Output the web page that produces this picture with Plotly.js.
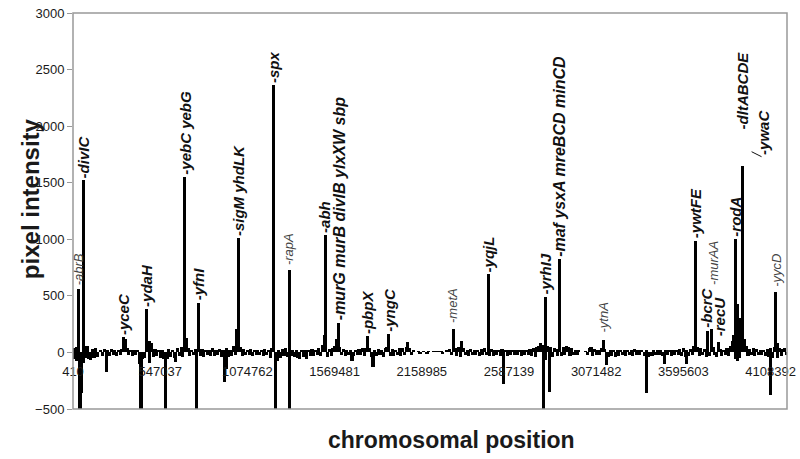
<!DOCTYPE html>
<html>
<head>
<meta charset="utf-8">
<script src="https://cdn.plot.ly/plotly-3.0.1.min.js"></script>
<style>html,body{margin:0;padding:0;background:#fff;}#chart{width:800px;height:459px;}</style>
</head>
<body>
<div id="chart"></div>
<script>
// Category axis: chromosomal positions (labels every 50 categories)
const tickPos = [0, 50, 100, 150, 200, 250, 300, 350, 400];
const tickLabels = ['410', '547037', '1074762', '1569481', '2158985', '2587139', '3071482', '3595603', '4108392'];

// [category index, pixel intensity] — positive signals
const upBars = [
  [0,25],[1,40],[2,50],[3,560],[6,1520],[7,40],[8,55],[11,30],[13,35],[16,25],
  [18,30],[20,20],[22,28],[24,25],[26,22],[28,30],[29,132],[30,115],[31,40],[33,25],
  [35,20],[37,22],[42,382],[43,100],[44,100],[45,80],[47,30],[49,25],[51,20],[55,30],
  [57,25],[60,35],[62,50],[64,1550],[65,130],[66,40],[68,25],[70,30],[72,440],[74,30],
  [76,25],[78,22],[80,35],[82,25],[84,30],[86,20],[88,40],[90,25],[92,60],[94,208],
  [95,1012],[96,50],[98,30],[100,25],[102,30],[104,20],[106,25],[108,22],[110,30],[112,25],
  [114,40],[115,2360],[118,25],[120,30],[122,35],[124,725],[126,20],[128,22],[131,18],[133,25],
  [135,20],[137,30],[139,25],[141,40],[143,68],[144,150],[145,1040],[147,30],[149,35],[150,60],
  [151,115],[152,264],[153,50],[155,30],[157,25],[159,20],[162,25],[164,30],[166,35],[168,40],
  [169,147],[170,40],[173,25],[175,30],[177,20],[179,35],[180,50],[181,162],[183,30],[185,25],
  [187,35],[189,40],[191,50],[192,88],[193,40],[195,20],[198,15],[201,15],[204,15],[207,15],
  [209,15],[211,15],[214,20],[216,30],[218,211],[219,40],[221,50],[223,103],[224,40],[226,25],
  [228,30],[230,20],[232,25],[234,30],[236,35],[238,690],[240,30],[242,25],[244,20],[246,30],
  [248,20],[250,25],[252,20],[254,18],[256,22],[258,25],[260,20],[262,30],[264,40],[266,50],
  [267,60],[268,80],[269,70],[271,490],[272,60],[274,50],[276,40],[277,30],[279,828],[281,50],
  [283,60],[284,50],[286,40],[288,25],[290,20],[294,15],[296,40],[297,50],[299,30],[301,25],
  [303,40],[304,112],[305,30],[308,20],[310,22],[312,18],[314,25],[316,20],[318,22],[320,25],
  [322,30],[324,20],[326,18],[329,20],[333,18],[335,25],[337,20],[340,18],[342,22],[344,20],
  [346,25],[348,30],[350,35],[352,25],[354,30],[356,60],[357,989],[358,50],[360,40],[362,30],
  [364,191],[366,206],[367,50],[370,88],[371,30],[373,25],[375,35],[377,60],[378,100],[379,150],
  [380,1003],[381,426],[382,300],[383,200],[384,1650],[385,120],[386,60],[388,30],[390,40],[392,30],
  [394,25],[396,20],[398,30],[400,35],[402,50],[403,534],[404,80],[405,40],[407,30],[408,40]
];

// [category index, pixel intensity] — negative signals
const downBars = [
  [1,-60],[2,-80],[4,-520],[5,-360],[6,-90],[7,-50],[9,-60],[10,-70],[12,-50],[14,-40],
  [17,-30],[19,-176],[21,-35],[23,-25],[25,-30],[27,-20],[32,-25],[34,-30],[36,-20],[38,-100],
  [39,-520],[40,-60],[41,-50],[44,-97],[46,-40],[48,-30],[50,-50],[52,-60],[53,-520],[54,-60],
  [56,-40],[58,-50],[59,-88],[61,-30],[63,-40],[67,-30],[69,-25],[71,-520],[73,-30],[75,-40],
  [77,-25],[79,-30],[81,-35],[83,-25],[85,-40],[87,-258],[88,-150],[89,-40],[91,-30],[93,-25],
  [97,-30],[99,-25],[101,-20],[103,-30],[105,-25],[107,-20],[109,-30],[111,-25],[113,-50],[116,-520],
  [117,-73],[119,-50],[121,-30],[123,-40],[124,-520],[125,-30],[127,-40],[129,-50],[130,-60],[132,-40],
  [134,-55],[136,-30],[138,-35],[140,-25],[142,-30],[146,-40],[148,-30],[154,-25],[156,-30],[158,-20],
  [160,-73],[161,-30],[163,-25],[165,-20],[167,-30],[171,-40],[172,-132],[174,-30],[176,-25],[178,-40],
  [182,-30],[184,-35],[186,-25],[188,-30],[190,-25],[194,-20],[199,-12],[203,-12],[212,-12],[217,-25],
  [220,-30],[222,-40],[225,-25],[227,-30],[229,-20],[231,-25],[233,-30],[235,-20],[237,-25],[239,-30],
  [241,-35],[243,-25],[245,-30],[247,-278],[249,-30],[251,-25],[253,-20],[255,-25],[257,-30],[259,-20],
  [261,-25],[263,-30],[265,-40],[270,-540],[271,-70],[273,-352],[275,-40],[278,-30],[280,-35],[282,-25],
  [285,-30],[287,-20],[289,-25],[295,-20],[298,-30],[300,-25],[302,-20],[306,-111],[307,-40],[309,-30],
  [311,-40],[313,-30],[315,-25],[317,-35],[319,-20],[321,-30],[323,-25],[325,-20],[328,-30],[329,-357],
  [330,-40],[332,-30],[334,-20],[336,-25],[338,-30],[339,-100],[341,-25],[343,-30],[345,-20],[347,-25],
  [349,-30],[351,-40],[352,-100],[353,-30],[355,-25],[359,-30],[361,-25],[363,-40],[365,-30],[368,-25],
  [369,-40],[372,-30],[374,-25],[376,-30],[380,-60],[381,-80],[382,-50],[387,-30],[389,-25],[391,-30],
  [393,-20],[395,-25],[397,-30],[399,-40],[400,-372],[401,-50],[404,-50],[406,-30],[409,-25]
];

// Gene labels: text, category position, intensity at label base, style (b = bold, s = small)
const geneNames = ['-abrB','-divIC','-yceC','-ydaH','-yebC yebG','-yfnI','-sigM yhdLK','-spx','-rapA','-abh',
  '-murG murB divIB ylxXW sbp','-pbpX','-yngC','-metA','-yqjL','-yrhIJ','-maf ysxA mreBCD minCD','-ytnA','-ywtFE','-bcrC',
  '-murAA','-recU','-rodA','-dltABCDE','-ywaC','-yycD'];
const genePos = [3,6,29,42,64,72,95,115,124,144.6,152.6,169,181,218,238,271,279,304,357,363.5,367.1,370.4,380,384,395.5,403];
const geneBase = [578,1520,132,382,1550,440,1012,2360,757,1040,264,147,162,240,690,490,828,160,989,200,581,125,1003,1951,1730,565];
const geneStyle = ['s','b','b','b','b','b','b','b','s','b','b','b','b','s','b','b','b','s','b','b','s','b','b','b','b','s'];

const FONT = 'Liberation Sans, Arial, Helvetica, sans-serif';

const traces = [
  {type:'bar', x: upBars.map(d=>d[0]), y: upBars.map(d=>d[1]), width: 1.8,
   marker:{color:'#000', line:{width:0}}, hoverinfo:'skip'},
  {type:'bar', x: downBars.map(d=>d[0]), y: downBars.map(d=>d[1]), width: 1.8,
   marker:{color:'#000', line:{width:0}}, hoverinfo:'skip'}
];

const annotations = geneNames.map((t,i)=>{
  const bold = geneStyle[i]==='b';
  const long = t.length > 20;
  return {
    xref:'x', yref:'y', x: genePos[i], y: geneBase[i],
    text: bold ? '<b><i>'+t+'</i></b>' : '<i>'+t+'</i>',
    textangle: -90, showarrow:false, xanchor:'center', yanchor:'bottom',
    yshift: 1, borderpad: 0,
    font:{family:FONT, size: bold ? (long ? 16 : 15) : 13, color: bold ? '#111' : '#444'}
  };
});
annotations.push({xref:'paper', yref:'paper', x:-0.0602, y:0.53, text:'<b>pixel intensity</b>',
  textangle:-90, showarrow:false, xanchor:'center', yanchor:'middle',
  font:{family:FONT, size:24, color:'#1a1a1a'}});
annotations.push({xref:'paper', yref:'paper', x:0.5308, y:-0.0783, text:'<b>chromosomal position</b>',
  showarrow:false, xanchor:'center', yanchor:'middle',
  font:{family:FONT, size:23, color:'#1a1a1a'}});

const layout = {
  width:800, height:459,
  margin:{l:73, r:13, t:13, b:50},
  paper_bgcolor:'#fff', plot_bgcolor:'#fff',
  showlegend:false, barmode:'overlay', bargap:0,
  xaxis:{range:[0,409.4], tickmode:'array', tickvals:tickPos, ticktext:tickLabels,
    anchor:'free', position:0.1429, showline:false, showgrid:false, zeroline:false,
    ticks:'', ticklabelstandoff:10, fixedrange:true,
    tickfont:{family:FONT, size:13, color:'#1a1a1a'}},
  yaxis:{range:[-500,3000], tickmode:'array', tickvals:[-500,0,500,1000,1500,2000,2500,3000],
    ticks:'outside', ticklen:5, tickcolor:'#999', showgrid:false, zeroline:false, showline:false,
    fixedrange:true, tickfont:{family:FONT, size:13, color:'#1a1a1a'}},
  shapes:[
    {type:'rect', xref:'paper', yref:'paper', x0:0, x1:1, y0:0, y1:1, line:{color:'#999', width:1.5}},
    {type:'line', xref:'x', yref:'y', x0:389.1, y0:1774, x1:394.8, y1:1730, line:{color:'#111', width:1}}
  ],
  annotations: annotations
};

Plotly.newPlot('chart', traces, layout, {displayModeBar:false, staticPlot:true});
</script>
</body>
</html>
